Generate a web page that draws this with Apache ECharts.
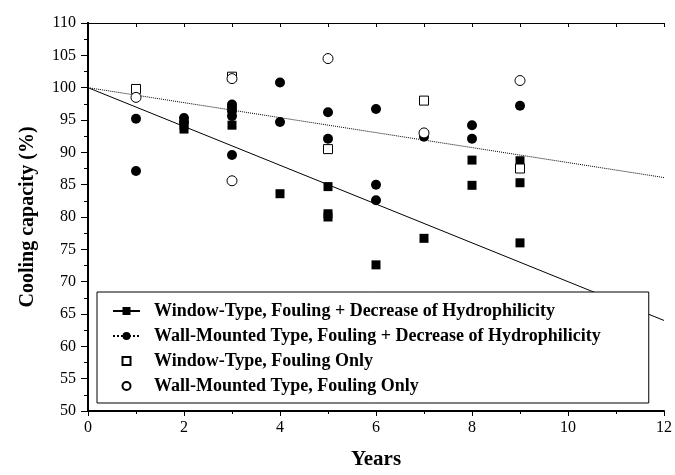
<!DOCTYPE html>
<html>
<head>
<meta charset="utf-8">
<script src="https://cdn.jsdelivr.net/npm/echarts@6/dist/echarts.min.js"></script>
<style>
  html, body { margin: 0; padding: 0; background: #fff; }
  #chart { width: 675px; height: 475px; }
</style>
</head>
<body>
<div id="chart"></div>
<script>
  // series names (legend text)
  var nameWinHydro = 'Window-Type, Fouling + Decrease of Hydrophilicity'
  var nameWallHydro = 'Wall-Mounted Type, Fouling + Decrease of Hydrophilicity'
  var nameWinFoul = 'Window-Type, Fouling Only'
  var nameWallFoul = 'Wall-Mounted Type, Fouling Only'

  // [years, cooling capacity %]
  var winHydro = [[2, 94.2], [2, 93.6], [3, 94.2], [4, 83.6], [5, 84.7], [5, 80.5], [5, 80.0],
    [6, 72.6], [7, 76.7], [8, 88.8], [8, 84.9], [9, 88.7], [9, 85.3], [9, 76.0]]
  var wallHydro = [[1, 95.2], [1, 87.1], [2, 95.3], [2, 94.7], [3, 97.4], [3, 96.9], [3, 96.4],
    [3, 95.6], [3, 89.6], [4, 100.8], [4, 94.7], [5, 96.2], [5, 92.1], [6, 96.7], [6, 85.0],
    [6, 82.6], [7, 92.4], [8, 94.2], [8, 92.1], [9, 97.2]]
  var winFoul = [[1, 99.8], [3, 101.7], [5, 90.5], [7, 98.0], [9, 87.5]]
  var wallFoul = [[1, 98.5], [3, 101.4], [3, 85.6], [5, 104.5], [7, 93.0], [9, 101.1]]

  // linear fit lines (endpoints at 0 and 12 years)
  var fitX = [0, 12]
  var fitWinY = [100, 64]
  var fitWallY = [100, 86.1]

  var font = 'Liberation Serif'
  var chart = echarts.init(document.getElementById('chart'))

  function pairs (xs, ys) {
    return xs.map(function (x, i) { return [x, ys[i]] })
  }

  chart.setOption({
    animation: false,
    backgroundColor: '#fff',
    grid: { left: 88, right: 7, top: 23, bottom: 62 },
    legend: {
      orient: 'vertical',
      left: 97,
      top: 292,
      padding: [10, 48, 8, 15],
      itemWidth: 27,
      itemHeight: 10,
      itemGap: 7,
      backgroundColor: '#fff',
      borderColor: '#000',
      borderWidth: 1,
      borderRadius: 0,
      selectedMode: false,
      textStyle: { fontFamily: font, fontWeight: 'bold', fontSize: 18, color: '#000', padding: [0, 0, 0, 9] },
      data: [nameWinHydro, nameWallHydro, nameWinFoul, nameWallFoul]
    },
    xAxis: [{
      type: 'value',
      min: 0,
      max: 12,
      interval: 2,
      name: 'Years',
      nameLocation: 'middle',
      nameGap: 38,
      nameTextStyle: { fontFamily: font, fontWeight: 'bold', fontSize: 21, color: '#000' },
      axisLine: { lineStyle: { color: '#000', width: 2 } },
      axisTick: { inside: false, length: 5, lineStyle: { color: '#000', width: 1 } },
      minorTick: { show: true, splitNumber: 2, length: 3, lineStyle: { color: '#000' } },
      axisLabel: { fontFamily: font, fontSize: 16, color: '#000', margin: 9 },
      splitLine: { show: false }
    }, {
      type: 'value',
      position: 'top',
      min: 0,
      max: 12,
      interval: 1,
      axisLine: { lineStyle: { color: '#000', width: 1 } },
      axisTick: { inside: true, length: 4, lineStyle: { color: '#000' } },
      axisLabel: { show: false },
      splitLine: { show: false }
    }],
    yAxis: [{
      type: 'value',
      min: 50,
      max: 110,
      interval: 5,
      name: 'Cooling capacity (%)',
      nameLocation: 'middle',
      nameGap: 50,
      nameTextStyle: { fontFamily: font, fontWeight: 'bold', fontSize: 20, color: '#000' },
      axisLine: { show: true, lineStyle: { color: '#000', width: 2 } },
      axisTick: { show: true, inside: false, length: 7, lineStyle: { color: '#000' } },
      minorTick: { show: true, splitNumber: 2, length: 3, lineStyle: { color: '#000' } },
      axisLabel: { fontFamily: font, fontSize: 16, color: '#000', margin: 12 },
      splitLine: { show: false }
    }, {
      type: 'value',
      position: 'right',
      min: 50,
      max: 110,
      interval: 2.5,
      axisLine: { show: true, lineStyle: { color: '#000', width: 2 } },
      axisTick: { show: true, inside: true, length: 4, lineStyle: { color: '#000' } },
      axisLabel: { show: false },
      splitLine: { show: false }
    }],
    series: [
      {
        name: nameWinHydro,
        type: 'line',
        data: pairs(fitX, fitWinY),
        showSymbol: false,
        symbol: 'rect',
        silent: true,
        itemStyle: { color: '#000' },
        lineStyle: { color: '#000', width: 1, type: 'solid' },
        z: 1
      },
      {
        name: nameWallHydro,
        type: 'line',
        data: pairs(fitX, fitWallY),
        showSymbol: false,
        symbol: 'circle',
        silent: true,
        itemStyle: { color: '#000' },
        lineStyle: { color: '#000', width: 1, type: 'dotted' },
        z: 1
      },
      {
        name: nameWinHydro,
        type: 'scatter',
        data: winHydro,
        symbol: 'rect',
        symbolSize: 9,
        itemStyle: { color: '#000', opacity: 1 },
        z: 3
      },
      {
        name: nameWallHydro,
        type: 'scatter',
        data: wallHydro,
        symbol: 'circle',
        symbolSize: 10,
        itemStyle: { color: '#000', opacity: 1 },
        z: 3
      },
      {
        // drawn as line type with zero-width line so legend icon matches marker size
        name: nameWinFoul,
        type: 'line',
        data: winFoul,
        symbol: 'rect',
        symbolSize: 9,
        showSymbol: true,
        itemStyle: { color: '#fff', borderColor: '#000', borderWidth: 1, opacity: 1 },
        lineStyle: { width: 0 },
        z: 3
      },
      {
        name: nameWallFoul,
        type: 'line',
        data: wallFoul,
        symbol: 'circle',
        symbolSize: 10,
        showSymbol: true,
        itemStyle: { color: '#fff', borderColor: '#000', borderWidth: 1, opacity: 1 },
        lineStyle: { width: 0 },
        z: 3
      }
    ]
  })
</script>
</body>
</html>
